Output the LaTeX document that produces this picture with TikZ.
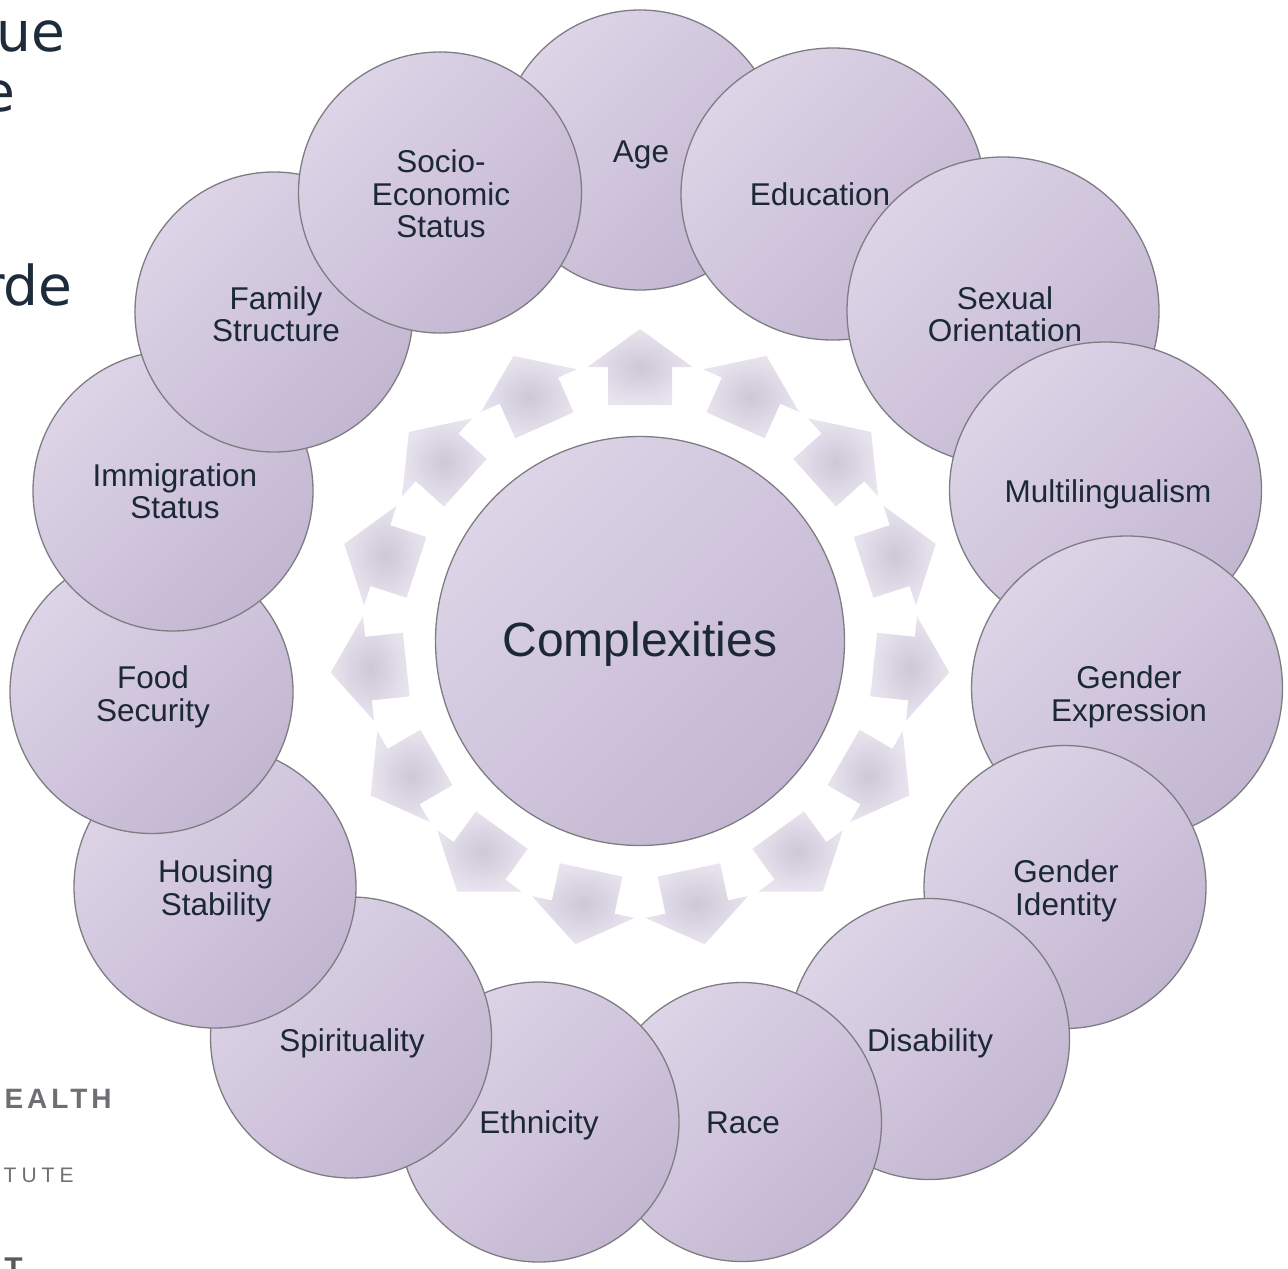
\documentclass[tikz,border=0pt]{standalone}
\usepackage{fontspec}
\setmainfont{Liberation Sans}
\newfontfamily\slidefont{DejaVu Sans}
\newfontfamily\logofont[LetterSpace=14]{Liberation Sans}
\newfontfamily\logothinfont[LetterSpace=24]{Liberation Sans}
\usetikzlibrary{shapes.geometric}

\definecolor{lavlight}{RGB}{221,212,231}
\definecolor{lavdark}{RGB}{195,182,209}
\definecolor{rimgray}{RGB}{125,125,130}
\definecolor{inkblue}{RGB}{27,40,54}
\definecolor{arrowcore}{RGB}{205,199,215}
\definecolor{arrowrim}{RGB}{232,228,239}
\definecolor{slidetext}{RGB}{30,43,58}
\definecolor{logogray}{RGB}{110,111,114}

\begin{document}
\begin{tikzpicture}[x=0.5pt,y=-0.5pt,
  bubble/.style={ellipse, draw=rimgray, line width=0.65pt,
    top color=lavlight, bottom color=lavdark, shading angle=45, inner sep=0pt},
  bubbletext/.style={text=inkblue, align=center, inner sep=0pt,
    font=\fontsize{15.75}{16.25}\selectfont},
  oneline/.style={bubbletext, anchor=base},
  rayarrow/.style={inner color=arrowcore, outer color=arrowrim},
  slideline/.style={anchor=base east, inner sep=0pt, text=slidetext,
    font=\slidefont\fontsize{27.5}{27.5}\selectfont}
]
\useasboundingbox (0,0) rectangle (1288,1268);

% slide text behind the diagram
\node[slideline] (s1) at (66,51.5) {ue};
\node[slideline] (s2) at (15.5,111.5) {e};
\node[slideline] (s3) at (73,305.5) {rde};
\node[anchor=base east, inner sep=0pt, text=logogray, font=\logofont\bfseries\fontsize{14}{14}\selectfont] (s4) at (112,1108) {EALTH};
\node[anchor=base east, inner sep=0pt, text=logogray, font=\logothinfont\fontsize{10.5}{10.5}\selectfont] (s5) at (74,1182) {TUTE};
\node[anchor=base west, inner sep=0pt, text=logogray!80!black, font=\bfseries\fontsize{15}{15}\selectfont] (s6) at (4,1278) {T};

% centre hub
\node[circle, bubble, minimum size=204.5pt] (hub) at (640,641) {};
\node[anchor=base, text=inkblue, inner sep=0pt, font=\fontsize{24}{24}\selectfont] (hubtext) at (640,656.5) {Complexities};

% ring of outward arrows
\begin{scope}[shift={(640,640)}]
\foreach \a in {90,66,42,18,-6,-30,-54,-78,-102,-126,-150,-174,162,138,114}
  \shade[rayarrow, rotate=\a]
    (235,-32) -- (273,-32) -- (273,-52.5) -- (311,0) -- (273,52.5) -- (273,32) -- (235,32) -- cycle;
\end{scope}

% outer bubbles, clockwise from the top; each one lies over the previous one
\node[bubble, minimum width=140pt, minimum height=140pt] (age) at (640,150) {};
\node[bubble, minimum width=152pt, minimum height=146pt] (edu) at (833,194) {};
\node[bubble, minimum width=156pt, minimum height=154pt] (sex) at (1003,311) {};
\node[bubble, minimum width=156pt, minimum height=148pt] (multi) at (1105.5,490) {};
\node[bubble, minimum width=155.5pt, minimum height=152pt] (gexp) at (1127,688) {};
\node[bubble, minimum width=141pt, minimum height=141.5pt] (gid) at (1065,887) {};
\node[bubble, minimum width=140.5pt, minimum height=140.5pt] (dis) at (929,1039) {};
\node[bubble, minimum width=139.5pt, minimum height=139.5pt] (race) at (742,1122) {};
\node[bubble, minimum width=140pt, minimum height=140pt] (eth) at (539,1122) {};
\node[bubble, minimum width=140.5pt, minimum height=140.5pt] (spir) at (351,1037.5) {};
\node[bubble, minimum width=141pt, minimum height=141pt] (house) at (215,887) {};
\node[bubble, minimum width=141.5pt, minimum height=141.5pt] (food) at (151.5,692) {};
\node[bubble, minimum width=140pt, minimum height=140pt] (immi) at (173,491) {};
\node[bubble, minimum width=139pt, minimum height=140pt] (fam) at (274,312) {};
\node[bubble, minimum width=141.5pt, minimum height=140.5pt] (ses) at (440,192.5) {};

% bubble labels
\node[oneline] (tage) at (641,162.5) {Age};
\node[oneline] (tedu) at (820,205) {Education};
\node[bubbletext] (tsex) at (1005,314) {Sexual\\Orientation};
\node[oneline] (tmulti) at (1108,502.5) {Multilingualism};
\node[bubbletext] (tgexp) at (1129,697) {Gender\\Expression};
\node[bubbletext] (tgid) at (1066,891) {Gender\\Identity};
\node[oneline] (tdis) at (930,1051.5) {Disability};
\node[oneline] (trace) at (743,1133.5) {Race};
\node[oneline] (teth) at (539,1133.5) {Ethnicity};
\node[oneline] (tspir) at (352,1051.5) {Spirituality};
\node[bubbletext] (thouse) at (216,891) {Housing\\Stability};
\node[bubbletext] (tfood) at (153,697) {Food\\Security};
\node[bubbletext] (timmi) at (175,491) {Immigration\\Status};
\node[bubbletext] (tfam) at (276,314) {Family\\Structure};
\node[bubbletext] (tses) at (441,194) {Socio-\\Economic\\Status};
\end{tikzpicture}
\end{document}
